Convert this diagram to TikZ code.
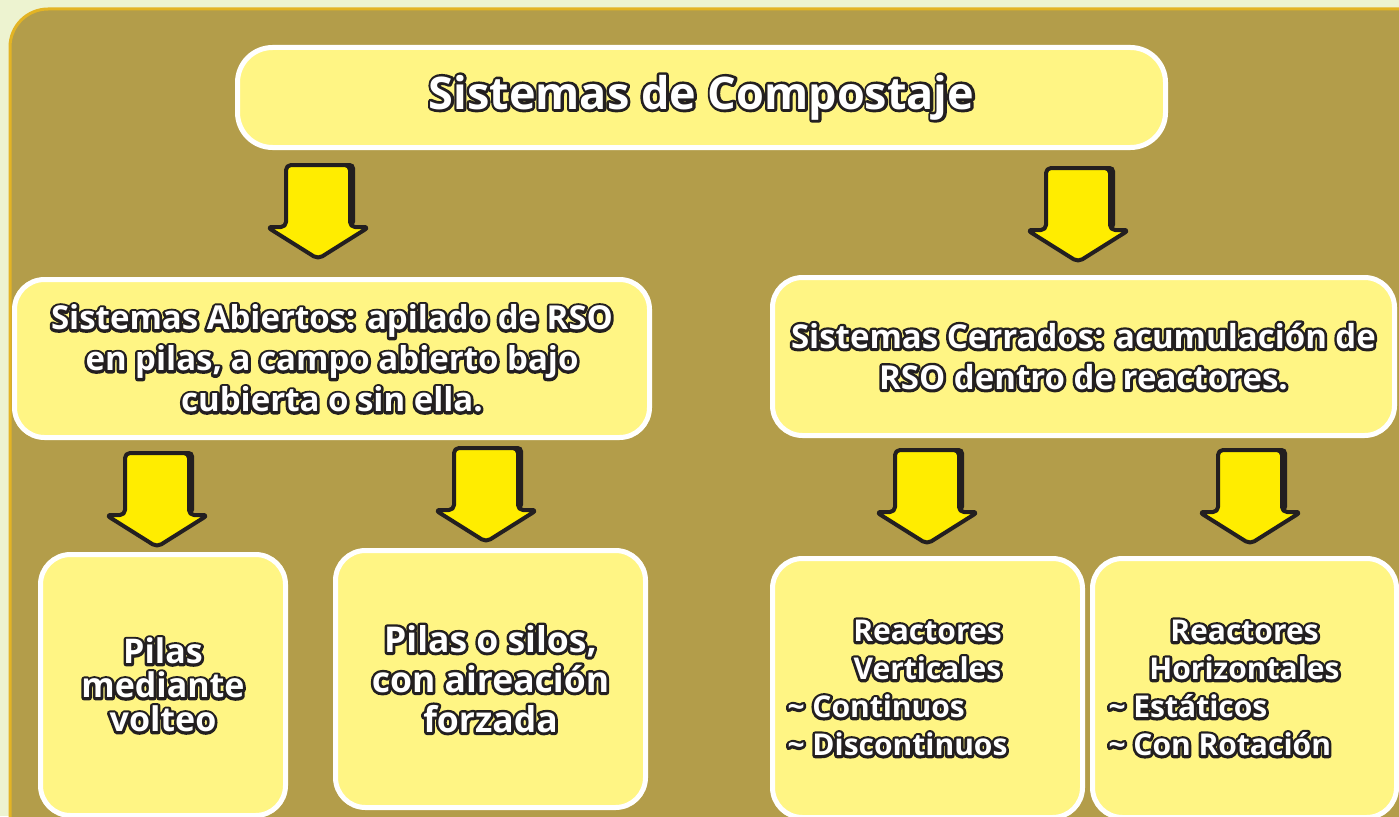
\documentclass[tikz,border=0pt]{standalone}
\usepackage{fontspec}
\setmainfont{Open Sans}
\usepackage{xcolor}
\usepackage{tikz}
\usetikzlibrary{positioning}
\definecolor{PageBg}{HTML}{EDF3D0}
\definecolor{PanelOlive}{HTML}{B39D4A}
\definecolor{PanelEdge}{HTML}{E3B424}
\definecolor{BoxYellow}{HTML}{FFF584}
\definecolor{ArrowYellow}{HTML}{FFED00}
\definecolor{InkDark}{HTML}{231F20}
% outlined text: dark stroke behind, white letters on top
\newcommand{\outl}[1]{\leavevmode\rlap{\special{pdf:literal direct 1 Tr 5.4 w 1 j 0.137 0.122 0.125 RG}#1\special{pdf:literal direct 0 Tr}}#1}

\begin{document}
\begin{tikzpicture}[x=1pt, y=-1pt,
    box/.style={draw=white, line width=5pt, fill=BoxYellow, rounded corners=30pt, text=white, align=center, inner sep=0pt},
    arrowline/.style={draw=InkDark, line width=4pt, fill=ArrowYellow, rounded corners=5pt, line join=round},
    blockarr/.pic={
      \fill[InkDark, rounded corners=5pt] (-29,-2) -- (37,-2) -- (37,62) -- (-29,62) -- cycle;
      \draw[arrowline] (-32,0) -- (32,0) -- (32,62) -- (51,62) -- (0,94) -- (-51,62) -- (-32,62) -- cycle;
    }]
      \clip (0,0) rectangle (1399,816);
      \useasboundingbox (0,0) rectangle (1399,816);
      \fill[PageBg] (0,0) rectangle (1399,816);
      \draw[PanelEdge, line width=3pt, fill=PanelOlive, rounded corners=38pt] (10,9) rectangle (1440,860);
      % Nodes
      \node[box, rounded corners=35pt, minimum width=928pt, minimum height=100pt, font=\bfseries\fontsize{45}{50}\selectfont] (title) at (701.5,97.5) {\raisebox{-4pt}{\outl{Sistemas de Compostaje}}};
      \node[box, minimum width=635pt, minimum height=158pt, font=\bfseries\fontsize{33}{41}\selectfont] (open) at (332,358.5)
        {\outl{Sistemas Abiertos: apilado de RSO}\\\outl{en pilas, a campo abierto bajo}\\\outl{cubierta o sin ella.}};
      \node[box, minimum width=622pt, minimum height=158pt, font=\bfseries\fontsize{33}{41}\selectfont] (closed) at (1083.5,356.5)
        {\outl{Sistemas Cerrados: acumulación de}\\\outl{RSO dentro de reactores.}};
      \node[box, minimum width=245pt, minimum height=261pt, font=\bfseries\fontsize{34}{34}\selectfont] (turned) at (163,685)
        {\outl{Pilas}\\\outl{mediante}\\\outl{volteo}};
      \node[box, minimum width=310pt, minimum height=257pt, font=\bfseries\fontsize{35.5}{40}\selectfont] (forced) at (490.5,679)
        {\outl{Pilas o silos,}\\\outl{con aireación}\\\outl{forzada}};
      \node[box, minimum width=310pt, minimum height=259pt, font=\bfseries\fontsize{30}{38}\selectfont] (vertical) at (927.5,688)
        {\parbox{280pt}{\centering\outl{Reactores}\\\outl{Verticales}\par\raggedright\outl{\textasciitilde{} Continuos}\\\outl{\textasciitilde{} Discontinuos}}};
      \node[box, minimum width=304pt, minimum height=259pt, font=\bfseries\fontsize{30}{38}\selectfont] (horizontal) at (1244.5,688)
        {\parbox{272pt}{\centering\outl{Reactores}\\\outl{Horizontales}\par\raggedright\outl{\textasciitilde{} Estáticos}\\\outl{\textasciitilde{} Con Rotación}}};
      % Arrows
      \pic at (318,165) {blockarr};
      \pic at (1078,168) {blockarr};
      \pic at (157,453) {blockarr};
      \pic at (486,448) {blockarr};
      \pic at (927,450) {blockarr};
      \pic at (1250,450) {blockarr};
\end{tikzpicture}
\end{document}
